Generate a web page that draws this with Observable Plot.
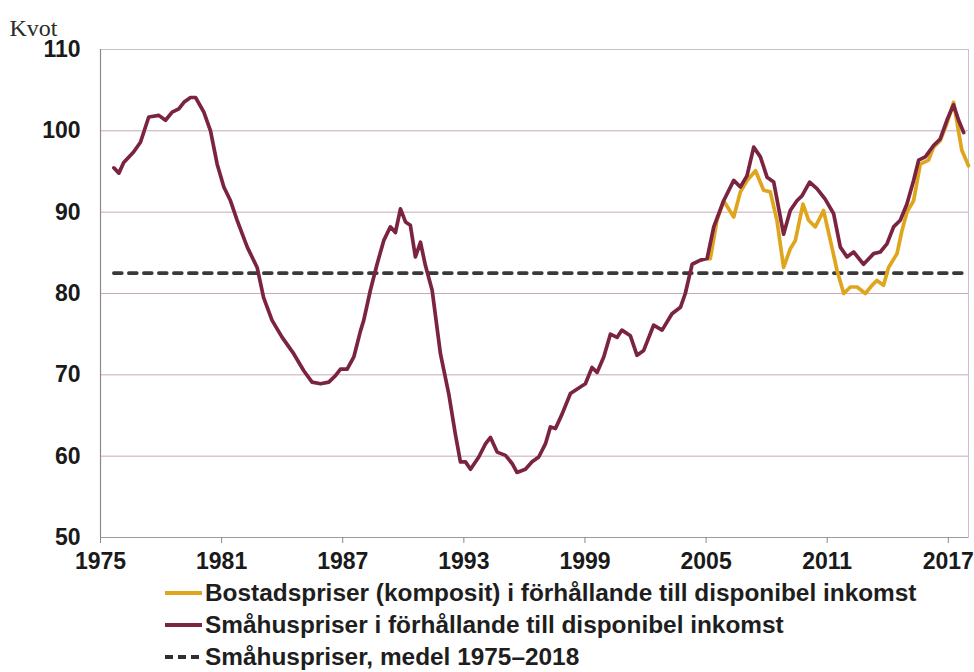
<!DOCTYPE html>
<html><head><meta charset="utf-8">
<script src="https://cdn.jsdelivr.net/npm/d3@7"></script>
<script src="https://cdn.jsdelivr.net/npm/@observablehq/plot@0.6"></script>
<style>
html,body{margin:0;padding:0;background:#fff;}
#legend{font-family:"Liberation Sans",Arial,sans-serif;font-weight:bold;font-size:24.4px;color:#1e1e1e;padding-left:165px;}
.row{height:32px;display:flex;align-items:center;white-space:nowrap;}
.row svg{margin-right:3px;flex:none;}
</style></head><body>
<div id="chart"></div>
<div id="legend"></div>
<script>
// Småhuspriser i förhållande till disponibel inkomst
const smahusYears = [1975.66,1975.91,1976.15,1976.64,1976.98,1977.39,1977.89,1978.22,1978.55,1978.88,1979.13,1979.46,1979.71,1980.12,1980.45,1980.78,1981.11,1981.44,1981.77,1982.27,1982.76,1983.08,1983.50,1984.00,1984.57,1985.07,1985.48,1985.90,1986.31,1986.64,1986.89,1987.22,1987.55,1987.88,1988.04,1988.37,1988.70,1989.03,1989.36,1989.61,1989.86,1990.11,1990.35,1990.60,1990.85,1991.10,1991.43,1991.84,1992.25,1992.58,1992.83,1993.08,1993.33,1993.74,1994.07,1994.32,1994.65,1995.06,1995.39,1995.63,1996.05,1996.38,1996.71,1997.04,1997.29,1997.54,1997.87,1998.28,1998.77,1999.02,1999.35,1999.60,1999.93,2000.26,2000.59,2000.83,2001.25,2001.58,2001.91,2002.40,2002.82,2003.31,2003.73,2003.97,2004.31,2004.72,2005.05,2005.38,2005.87,2006.37,2006.70,2007.03,2007.36,2007.69,2008.02,2008.35,2008.84,2009.17,2009.50,2009.75,2010.13,2010.49,2010.90,2011.32,2011.65,2011.98,2012.31,2012.80,2013.30,2013.63,2013.96,2014.29,2014.62,2014.95,2015.28,2015.53,2015.86,2016.27,2016.60,2016.93,2017.26,2017.51,2017.76];
const smahusValues = [95.45,94.8,96.1,97.4,98.6,101.7,101.9,101.3,102.3,102.7,103.5,104.1,104.1,102.3,100.0,95.9,93.1,91.4,89.0,85.7,83.2,79.5,76.7,74.6,72.6,70.5,69.1,68.9,69.1,69.9,70.7,70.7,72.2,75.4,76.7,80.4,83.6,86.5,88.2,87.5,90.4,88.8,88.4,84.5,86.3,83.4,80.4,72.6,67.7,62.7,59.3,59.3,58.4,59.9,61.5,62.3,60.5,60.1,59.1,58.0,58.4,59.3,59.9,61.5,63.6,63.4,65.2,67.7,68.5,68.9,70.9,70.3,72.2,75.0,74.6,75.5,74.8,72.4,73.0,76.1,75.5,77.5,78.3,80.0,83.6,84.1,84.3,88.2,91.4,93.9,93.1,94.5,98.0,96.8,94.3,93.7,87.3,90.2,91.4,92.0,93.7,92.9,91.6,89.8,85.7,84.5,85.1,83.6,84.9,85.1,86.1,88.2,89.0,91.0,93.9,96.4,96.8,98.2,99.0,101.3,103.2,101.3,99.8];

// Bostadspriser (komposit) i förhållande till disponibel inkomst
const bostadYears = [2005.05,2005.21,2005.54,2005.87,2006.37,2006.70,2007.03,2007.45,2007.85,2008.18,2008.51,2008.84,2009.17,2009.42,2009.80,2010.08,2010.41,2010.82,2011.16,2011.49,2011.82,2012.15,2012.48,2012.89,2013.22,2013.46,2013.79,2014.04,2014.46,2014.70,2014.95,2015.28,2015.61,2016.02,2016.27,2016.60,2016.93,2017.26,2017.67,2018.00];
const bostadValues = [84.3,84.3,89.0,91.4,89.4,92.5,93.9,95.1,92.7,92.5,89.0,83.2,85.5,86.5,91.0,89.0,88.2,90.2,86.5,82.8,80.0,80.8,80.8,80.0,81.0,81.6,81.0,83.2,84.9,87.7,90.0,91.4,95.9,96.4,98.0,98.8,100.9,103.5,97.6,95.7];

// Småhuspriser, medel 1975–2018
const meanYears = [1975.66, 2017.76];
const meanValues = [82.5, 82.5];

const xTicks = [1975, 1981, 1987, 1993, 1999, 2005, 2011, 2017];
const yTicks = [50, 60, 70, 80, 90, 100, 110];
const gridValues = [60, 70, 80, 90, 100];
const yLabel = "Kvot";

const legendItems = [
  {label: "Bostadspriser (komposit) i förhållande till disponibel inkomst", color: "#dfa51c", dash: null},
  {label: "Småhuspriser i förhållande till disponibel inkomst", color: "#7a2442", dash: null},
  {label: "Småhuspriser, medel 1975–2018", color: "#2e2e33", dash: "8,5"}
];

const smahus = smahusYears.map((x, i) => ({x, y: smahusValues[i]}));
const bostad = bostadYears.map((x, i) => ({x, y: bostadValues[i]}));
const mean = meanYears.map((x, i) => ({x, y: meanValues[i]}));

const chart = Plot.plot({
  width: 974,
  height: 577,
  marginLeft: 100,
  marginRight: 6,
  marginTop: 49,
  marginBottom: 40,
  style: {fontFamily: "'Liberation Sans', Arial, sans-serif", fontSize: "23px", fontWeight: "bold", color: "#1a1a1a", background: "#fff"},
  x: {domain: [1975, 2018]},
  y: {domain: [50, 110]},
  marks: [
    Plot.gridY(gridValues, {stroke: "#c7a9b7", strokeOpacity: 1, strokeWidth: 1}),
    Plot.frame({stroke: "#c4c4c8", strokeWidth: 1}),
    Plot.ruleX([1975], {stroke: "#8a8a8e", strokeWidth: 1.2}),
    Plot.ruleY([50], {stroke: "#9a9aa0", strokeWidth: 1.2}),
    Plot.axisY(yTicks, {tickSize: 0, tickPadding: 20, label: null, fontSize: 23, fontWeight: "bold"}),
    Plot.axisX(xTicks, {tickSize: 6, tickPadding: 9, tickFormat: d => String(d), label: null, fontSize: 23, fontWeight: "bold", stroke: "#888"}),
    Plot.line(mean, {x: "x", y: "y", stroke: "#38383d", strokeWidth: 3.6, strokeDasharray: "8,7"}),
    Plot.line(bostad, {x: "x", y: "y", stroke: "#dfa51c", strokeWidth: 3.7, strokeLinejoin: "round"}),
    Plot.line(smahus, {x: "x", y: "y", stroke: "#7a2442", strokeWidth: 3.7, strokeLinejoin: "round"}),
    Plot.text([yLabel], {frameAnchor: "top-left", dx: -91, dy: -31, textAnchor: "start", fontFamily: "'Liberation Serif', 'Times New Roman', serif", fontSize: 24, fontWeight: "normal", fill: "#2a2a2a"})
  ]
});
document.getElementById("chart").appendChild(chart);

const legend = document.getElementById("legend");
for (const item of legendItems) {
  const row = document.createElement("div");
  row.className = "row";
  const ns = "http://www.w3.org/2000/svg";
  const sw = document.createElementNS(ns, "svg");
  sw.setAttribute("width", "37");
  sw.setAttribute("height", "10");
  const ln = document.createElementNS(ns, "line");
  ln.setAttribute("x1", "0"); ln.setAttribute("x2", "37");
  ln.setAttribute("y1", "5"); ln.setAttribute("y2", "5");
  ln.setAttribute("stroke", item.color);
  ln.setAttribute("stroke-width", "4");
  if (item.dash) ln.setAttribute("stroke-dasharray", item.dash);
  sw.appendChild(ln);
  row.appendChild(sw);
  const span = document.createElement("span");
  span.textContent = item.label;
  row.appendChild(span);
  legend.appendChild(row);
}
</script>
</body></html>
